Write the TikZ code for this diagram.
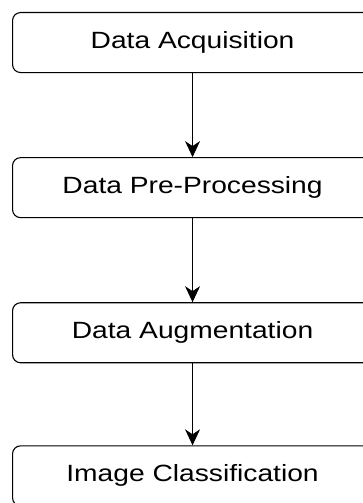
\documentclass[tikz,border=0pt]{standalone}
\usepackage{fontspec}
\setmainfont[FakeStretch=1.2]{Liberation Sans}
\usetikzlibrary{shapes, arrows.meta, positioning}
\tikzset{
    box/.style={rectangle, draw, rounded corners=8pt, fill=white, minimum width=360pt, minimum height=60pt, inner sep=0pt, line width=1.1pt, align=center, font=\fontsize{23.5}{28}\selectfont},
    arr/.style={-{Stealth[length=16pt, width=15pt, inset=5pt]}, line width=0.9pt},
}
\begin{document}
\begin{tikzpicture}[node distance=84pt]
\useasboundingbox (0pt,0pt) rectangle (362pt,-503pt);

% Steps
\node[box, anchor=north west] (acq) at (12pt,-12pt) {Data Acquisition};
\node[box, below=of acq] (pre) {Data Pre-Processing};
\node[box, below=of pre] (aug) {Data Augmentation};
\node[box, below=82pt of aug] (cls) {Image Classification};

% Arrows
\draw[arr] (acq) -- (pre);
\draw[arr] (pre) -- (aug);
\draw[arr] (aug) -- (cls);

\end{tikzpicture}
\end{document}
